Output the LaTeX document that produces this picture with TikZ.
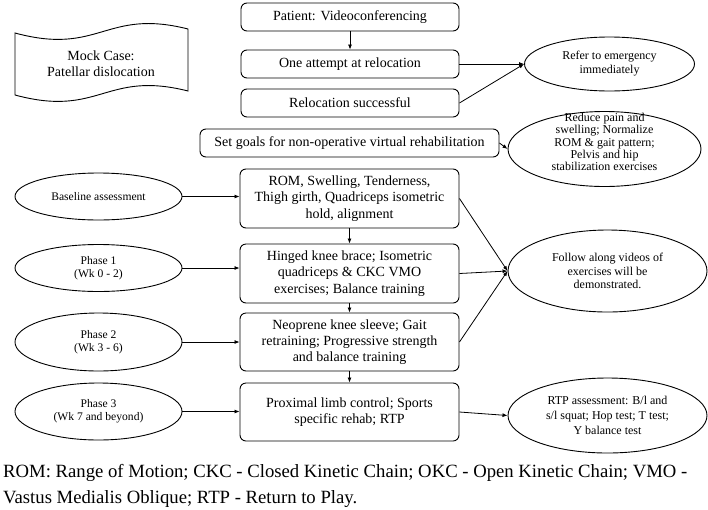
\documentclass[tikz,border=0pt]{standalone}
\usepackage{fontspec}
\setmainfont{Liberation Serif}
\usetikzlibrary{arrows.meta,shapes.geometric}
\begin{document}
\begin{tikzpicture}[x=1pt,y=-1pt,
  box/.style={draw, rounded corners=6pt, line width=0.9pt, minimum width=219pt, minimum height=28pt, inner sep=0pt, align=center, font=\fontsize{14}{16.3}\selectfont},
  ell/.style={draw, ellipse, line width=0.9pt, inner sep=0pt, align=center, font=\fontsize{12}{13.7}\selectfont},
  lell/.style={ell, minimum width=167pt, font=\fontsize{11.6}{13}\selectfont},
  arr/.style={-{Latex[length=5pt,width=4pt]}, line width=0.8pt},
  ln/.style={line width=0.8pt}]
\useasboundingbox (0,0) rectangle (708,509);

% mock case tape shape
\draw[line width=0.9pt] (15,33) .. controls (100,56) and (105,8) .. (188,29) -- (188,91) .. controls (105,70) and (100,118) .. (15,95) -- cycle;
\node[font=\fontsize{14}{16}\selectfont, align=center, inner sep=0pt] (mock) at (101,64) {Mock Case:\\Patellar dislocation};

% central boxes
\node[box, minimum width=218pt] (b1) at (350,17) {Patient: Videoconferencing};
\node[box, minimum width=218pt] (b2) at (350,64) {One attempt at relocation};
\node[box, minimum width=218pt] (b3) at (350,103) {Relocation successful};
\node[box, minimum width=299pt] (b4) at (349.5,143) {Set goals for non-operative virtual rehabilitation};
\node[box, minimum height=59pt] (b5) at (349.5,198.5) {ROM, Swelling, Tenderness,\\Thigh girth, Quadriceps isometric\\hold, alignment};
\node[box, minimum height=59pt] (b6) at (349.5,273.5) {Hinged knee brace; Isometric\\quadriceps \& CKC VMO\\exercises; Balance training};
\node[box, minimum height=58pt] (b7) at (349.5,342) {Neoprene knee sleeve; Gait\\retraining; Progressive strength\\and balance training};
\node[box, minimum height=58pt] (b8) at (349.5,412) {Proximal limb control; Sports\\specific rehab; RTP};

% right ellipses
\node[ell, minimum width=170pt, minimum height=54pt, font=\fontsize{12}{14}\selectfont] (refer) at (609.5,64) {Refer to emergency\\immediately};
\node[ell, minimum width=193pt, minimum height=75pt] (reduce) at (604.5,149) {};
\node[inner sep=0pt, align=center, font=\fontsize{12}{12.2}\selectfont] (reducet) at (604.5,142) {Reduce pain and\\swelling; Normalize\\ROM \& gait pattern;\\Pelvis and hip\\stabilization exercises};
\node[ell, minimum width=199pt, minimum height=82pt] (follow) at (607.5,271) {Follow along videos of\\exercises will be\\demonstrated.};
\node[ell, minimum width=199pt, minimum height=75pt, font=\fontsize{12}{15}\selectfont] (rtp) at (607.5,415.5) {RTP assessment: B/l and\\s/l squat; Hop test; T test;\\Y balance test};

% left ellipses
\node[lell, minimum height=47pt] (base) at (98.5,196.5) {Baseline assessment};
\node[lell, minimum height=47pt] (ph1) at (98.5,268) {Phase 1\\(Wk 0 - 2)};
\node[lell, minimum height=58pt] (ph2) at (98.5,342) {Phase 2\\(Wk 3 - 6)};
\node[lell, minimum height=57pt] (ph3) at (98.5,411.5) {Phase 3\\(Wk 7 and beyond)};

% connectors
\draw[arr] (b1) -- (b2);
\draw[arr] (b5) -- (b6);
\draw[arr] (b6) -- (b7);
\draw[arr] (b7) -- (b8);
\draw[arr] (b2.east) -- (refer.west);
\draw[arr] (b3.east) -- (refer.west);
\draw[arr] (b4.east) -- (reduce.west);
\draw[arr] (b5.east) -- (follow.west);
\draw[arr] (b6.east) -- (follow.west);
\draw[arr] (b7.east) -- (follow.west);
\draw[arr] (b8.east) -- (rtp.west);
\draw[arr] (base.east) -- (base.east -| b5.west);
\draw[arr] (ph1.east) -- (ph1.east -| b6.west);
\draw[arr] (ph2.east) -- (ph2.east -| b7.west);
\draw[arr] (ph3.east) -- (ph3.east -| b8.west);

% caption
\node[anchor=base west, inner sep=0pt, font=\fontsize{18.7}{26}\selectfont] (cap1) at (3,477) {ROM: Range of Motion; CKC - Closed Kinetic Chain; OKC - Open Kinetic Chain; VMO -};
\node[anchor=base west, inner sep=0pt, font=\fontsize{18.7}{26}\selectfont] (cap2) at (3,503) {Vastus Medialis Oblique; RTP - Return to Play.};
\end{tikzpicture}
\end{document}
